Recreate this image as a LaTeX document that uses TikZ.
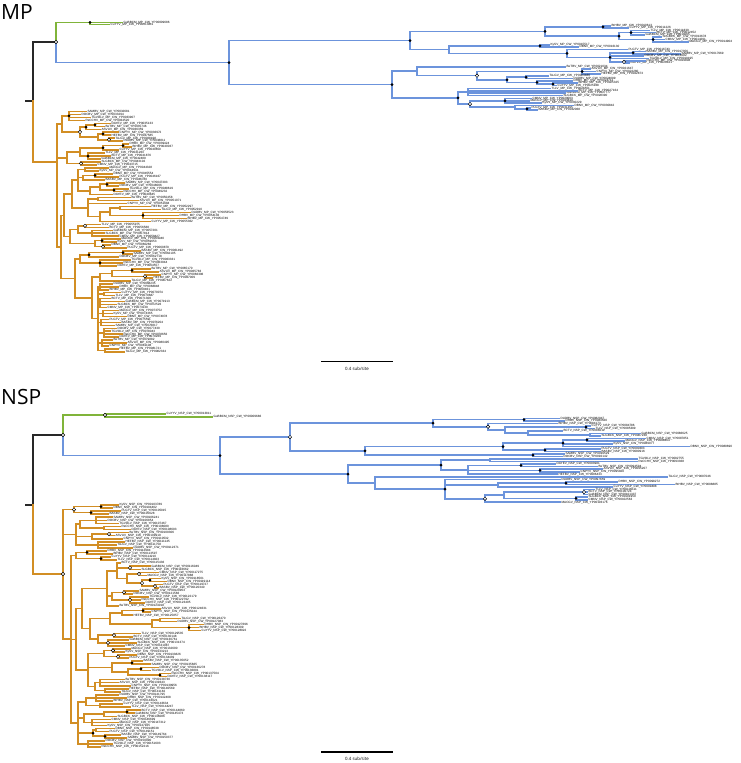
\documentclass[tikz,border=0pt]{standalone}
\usepackage{fontspec}
\setmainfont{Liberation Sans}
\newfontfamily\headfont{Open Sans}
\usetikzlibrary{calc}
\pgfdeclarelayer{fg}
\pgfsetlayers{main,fg}
\definecolor{cladeblue}{RGB}{108,148,220}
\definecolor{cladegreen}{RGB}{128,180,58}
\definecolor{cladeorange}{RGB}{210,142,36}
\definecolor{rootgray}{RGB}{40,40,40}

\tikzset{
  brbase/.style={line width=1.6pt, line cap=rect},
  blk/.style={brbase, draw=rootgray},
  grn/.style={brbase, draw=cladegreen},
  blu/.style={brbase, draw=cladeblue},
  org/.style={brbase, draw=cladeorange},
  br/.style={blu},
  leaf/.style={anchor=west, inner xsep=1.4pt, inner ysep=0pt, font=\fontsize{3.1}{3.3}\selectfont},
  fdot/.style={circle, fill=black, inner sep=0pt, minimum size=3pt},
  odot/.style={circle, draw=black, fill=white, line width=0.45pt, inner sep=0pt, minimum size=3.4pt},
  nodot/.style={inner sep=0pt, minimum size=0pt},
  titre/.style={anchor=base west, inner sep=0pt, font=\headfont\fontsize{21}{21}\selectfont},
  echelle/.style={line width=1.3pt, draw=black},
  echtxt/.style={inner sep=0pt, font=\headfont\fontsize{4.4}{5}\selectfont},
}

% etiquettes des feuilles
\newcount\nleaf
\def\seg{MP}
\def\dy{2.5}
\def\ycur{0}
\newcommand\tagof[1]{\pgfmathparse{{"DHBV","BtHBV","CuYYV","TLLV","BCTV","GuBBCM","SLGBCK","CMNV","MACGV","KySV","DBNV","PLGTV","BASBV","SAMBV","DOCBV","TGVOLV","RsCCHV","DAYEV","BeTBV","ASVUV","CNPYV","HEFBV","TsLGV","DUDBV"}[mod(#1,24)]}\pgfmathresult}
\newcommand\idof[1]{\number\numexpr 10000+#1*613\relax}
\newcommand\lbl{\tagof{\the\nleaf}\_\seg\_CW\_YP00\idof{\the\nleaf}}

% feuilles, groupes et noeuds internes
\newcommand\skipy[1]{\pgfmathsetmacro\ytmp{\ycur+#1}\xdef\ycur{\ytmp}}
\newcommand\lf[2]{%
  \global\advance\nleaf by 1
  \pgfmathsetmacro\ytmp{\ycur+\dy}\xdef\ycur{\ytmp}%
  \coordinate (#1) at (#2,\ycur);
  \node[leaf] (#1-t) at (#1) {\lbl};
}
\newcommand\grp[4]{%
  \foreach \xe [count=\kk] in {#4} {\lf{#1-\kk}{\xe}\xdef\nlast{\kk}}
  \path let \p1=(#1-1), \p2=(#1-\nlast) in coordinate (#1) at (#2pt,{0.5*(\y1+\y2)});
  \foreach \kk in {1,...,\nlast} {\draw[br] (#1) |- (#1-\kk);}
  \begin{pgfonlayer}{fg}\node[#3] (#1-m) at (#1) {};\end{pgfonlayer}
}
\newcommand\nd[4]{%
  \foreach \ch [count=\kk] in {#4} {\ifnum\kk=1 \xdef\cfirst{\ch}\fi\xdef\clast{\ch}}
  \path let \p1=(\cfirst), \p2=(\clast) in coordinate (#1) at (#2pt,{0.5*(\y1+\y2)});
  \foreach \ch in {#4} {\draw[br] (#1) |- (\ch);}
  \begin{pgfonlayer}{fg}\node[#3] (#1-m) at (#1) {};\end{pgfonlayer}
}

\begin{document}
\begin{tikzpicture}[x=1pt, y=-1pt]
    \useasboundingbox (0,0) rectangle (740,763);

    % Titres
    \node[titre] (tMP) at (1,19) {MP};
    \node[titre] (tNSP) at (1,404) {NSP};

    % ===== Arbre MP =====
    \def\seg{MP}
    \coordinate (mR0) at (26,101);
    \coordinate (mR) at (33,101);
    \coordinate (mA) at (56,42);
    \coordinate (mG) at (90,22.3);
    \coordinate (mO) at (57,161.7);
    \draw[blk] (mR0) -- (mR);
    \draw[blk] (mR) |- (mA);

    % Clade vert
    \draw[grn] (mA) |- (mG);
    \node[leaf] (mg1) at (122,22.3) {GuBBCM\_MP\_CW\_YP00009686};
    \node[leaf] (mg2) at (109,24.3) {CuYYV\_MP\_CW\_YP00013811};
    \draw[grn] (mG) |- (mg1.west);
    \draw[grn] (mG) |- (mg2.west);

    % Clade bleu
    \tikzset{br/.style={blu}}
    \def\dy{2.3}\xdef\ycur{23.4}
    \grp{mbA}{603}{fdot}{610,628}
    \grp{mbB}{631}{fdot}{649,655,644}
    \grp{mbC}{653}{fdot}{661,664,688}
    \nd{mbBC}{619}{fdot}{mbB,mbC}
    \nd{mbABC}{545}{fdot}{mbA,mbBC}
    \skipy{0.6}
    \grp{mbD}{540}{fdot}{549,578}
    \lf{mbE}{627}
    \grp{mbF}{633}{fdot}{645,680}
    \lf{mbG}{643}
    \lf{mbH}{648}
    \grp{mbI}{624}{odot}{645,629}
    \nd{mbFI}{610}{fdot}{mbF,mbG,mbH,mbI}
    \nd{mbEI}{567}{fdot}{mbE,mbFI}
    \nd{mbDI}{449}{nodot}{mbD,mbEI}
    \nd{mbU}{410}{fdot}{mbABC,mbDI}
    \skipy{1.5}
    \lf{mbJ}{565}
    \grp{mbK}{582}{fdot}{590,595,600}
    \grp{mbL}{526}{fdot}{548,572}
    \lf{mbM}{572}
    \grp{mbN}{553}{fdot}{577,556}
    \nd{mbMN}{537}{fdot}{mbM,mbN}
    \nd{mbLN}{507}{fdot}{mbL,mbMN}
    \nd{mbKN}{477}{odot}{mbK,mbLN}
    \nd{mbJN}{417}{nodot}{mbJ,mbKN}
    \skipy{0.8}
    \grp{mbO}{468}{nodot}{550,577,565,562}
    \skipy{1}
    \grp{mbP}{505}{fdot}{531,529,541}
    \lf{mbQ}{573}
    \grp{mbR}{527}{fdot}{530,537}
    \nd{mbQR}{515}{nodot}{mbQ,mbR}
    \nd{mbPR}{470}{odot}{mbP,mbQR}
    \nd{mbOR}{458}{fdot}{mbO,mbPR}
    \nd{mbL2}{392}{fdot}{mbJN,mbOR}
    \nd{mbRoot}{229}{fdot}{mbU,mbL2}
    \draw[blu] (mA) |- (mbRoot);

    % Clade orange
    \tikzset{br/.style={org}}
    \def\dy{2.97}\xdef\ycur{108.53}
    \grp{oa}{69}{fdot}{86,80,90,84}
    \grp{ob}{95}{fdot}{110,104}
    \lf{oc}{100}
    \nd{obc}{86}{fdot}{ob,oc}
    \grp{od}{103}{fdot}{118,110}
    \grp{oe}{109}{odot}{114,122}
    \nd{ode}{98}{nodot}{od,oe}
    \nd{obe}{80}{odot}{obc,ode}
    \nd{oA}{62}{nodot}{oa,obe}
    \grp{of}{123}{fdot}{128,131}
    \lf{og}{118}
    \nd{ofg}{103}{fdot}{of,og}
    \grp{oh}{88}{fdot}{104,110,100}
    \nd{ofh}{80}{nodot}{ofg,oh}
    \grp{oi}{81}{odot}{100,96}
    \nd{oB}{67}{nodot}{ofh,oi}
    \grp{oj}{85}{nodot}{108,98}
    \grp{ok}{95}{fdot}{112,118}
    \lf{ol}{104}
    \nd{okl}{83}{nodot}{ok,ol}
    \grp{om}{107}{fdot}{124,118}
    \grp{on}{114}{fdot}{128,122}
    \nd{omn}{100}{nodot}{om,on}
    \lf{oo}{112}
    \nd{omo}{90}{nodot}{omn,oo}
    \nd{ojo}{78}{nodot}{oj,okl,omo}
    \grp{op}{98}{nodot}{130,138}
    \lf{oq}{126}
    \grp{or}{120}{nodot}{150,160}
    \grp{os}{143}{fdot}{190,178,186}
    \nd{ors}{110}{nodot}{or,os}
    \lf{ot}{150}
    \nd{ort}{100}{nodot}{ors,ot}
    \nd{opt}{88}{nodot}{op,oq,ort}
    \nd{oC1}{72}{nodot}{ojo,opt}
    \grp{ou}{85}{odot}{100,108}
    \grp{ov}{92}{nodot}{112,104,118}
    \nd{ouv}{78}{nodot}{ou,ov}
    \grp{ow}{102}{fdot}{120,116}
    \grp{ox}{103}{odot}{110,126}
    \nd{owx}{95}{nodot}{ow,ox}
    \nd{ouw}{70}{nodot}{ouv,owx}
    \nd{oC}{64}{nodot}{oC1,ouw}
    \grp{oy}{123}{fdot}{140,132}
    \lf{oz}{118}
    \nd{oyz}{89}{fdot}{oy,oz}
    \grp{pa}{100}{fdot}{130,122,116}
    \nd{oyp}{80}{nodot}{oyz,pa}
    \grp{pb}{132}{fdot}{150,158}
    \grp{pc}{145}{odot}{160,152}
    \nd{pbc}{112}{nodot}{pb,pc}
    \lf{pd}{130}
    \nd{pbd}{100}{nodot}{pbc,pd}
    \grp{pe}{100}{nodot}{112,118,108}
    \grp{pf}{104}{nodot}{120,114}
    \grp{pg}{100}{nodot}{110,124,116,106}
    \grp{ph}{103}{nodot}{118,112,126}
    \grp{pi}{101}{nodot}{108,120,114}
    \grp{pj}{104}{nodot}{116,110,122,118}
    \grp{pk}{102}{nodot}{112,126,108}
    \grp{pl}{105}{nodot}{118,124}
    \nd{pcomb}{98}{nodot}{pe,pf,pg,ph,pi,pj,pk,pl}
    \nd{oD1}{92}{nodot}{pbd,pcomb}
    \nd{oD}{75}{nodot}{oyp,oD1}
    \nd{oCD}{61}{nodot}{oC,oD}
    \foreach \ch in {oA,oB,oCD} {\draw[org] (mO) |- (\ch);}
    \draw[org] (mR) |- (mO);

    \begin{pgfonlayer}{fg}
        \node[odot] (mA-m) at (mA) {};
        \node[fdot] (mG-m) at (mG) {};
    \end{pgfonlayer}

    % Echelle MP
    \coordinate (mS1) at (321,361.7);
    \coordinate (mS2) at (392.5,361.7);
    \draw[echelle] (mS1) -- (mS2);
    \node[echtxt] (mSt) at (357,369) {0.4 sub/site};

    % ===== Arbre NSP =====
    \def\seg{NSP}
    \coordinate (nR0) at (26,505);
    \coordinate (nR) at (33,505);
    \coordinate (nA) at (63,435);
    \coordinate (nG) at (105,415);
    \coordinate (nO) at (63,574);
    \draw[blk] (nR0) -- (nR);
    \draw[blk] (nR) |- (nA);

    % Clade vert
    \draw[grn] (nA) |- (nG);
    \node[leaf] (ng1) at (165,414.2) {CuYYV\_NSP\_CW\_YP00013811};
    \node[leaf] (ng2) at (212,416.8) {GuBBCM\_NSP\_CW\_YP00009686};
    \draw[grn] (nG) |- (ng1.west);
    \draw[grn] (nG) |- (ng2.west);

    % Clade bleu
    \tikzset{br/.style={blu}}
    \def\dy{2.545}\xdef\ycur{415.755}
    \grp{nbA}{524}{fdot}{559,564}
    \lf{nbB}{557}
    \grp{nbC}{586}{fdot}{590,594}
    \lf{nbD}{562}
    \grp{nbE}{590}{nodot}{640,600}
    \nd{nbDE}{528}{nodot}{nbD,nbE}
    \nd{nbCE}{505}{nodot}{nbC,nbDE}
    \nd{nbBE}{488}{odot}{nbB,nbCE}
    \nd{nbAE}{433}{fdot}{nbA,nbBE}
    \grp{nbF}{587}{fdot}{645,624}
    \lf{nbG}{612}
    \lf{nbH}{689}
    \nd{nbFH}{563}{fdot}{nbF,nbG,nbH}
    \grp{nbI}{545}{fdot}{600,600}
    \nd{nbFI}{503}{fdot}{nbFH,nbI}
    \grp{nbJ}{533}{fdot}{564,562}
    \nd{nbFJ}{365}{fdot}{nbFI,nbJ}
    \nd{nbUp}{290}{odot}{nbAE,nbFJ}
    \grp{nbK}{490}{nodot}{637,637}
    \grp{nbL}{521}{fdot}{555,597}
    \grp{nbM}{540}{fdot}{602,579}
    \lf{nbN}{557}
    \nd{nbLN}{468}{nodot}{nbL,nbM,nbN}
    \nd{nbKN}{441}{fdot}{nbK,nbLN}
    \lf{nbO}{667}
    \lf{nbP}{560}
    \grp{nbQ}{566}{fdot}{617,674}
    \lf{nbR}{612}
    \nd{nbQR}{498}{nodot}{nbQ,nbR}
    \grp{nbS}{584}{odot}{594,587,587}
    \grp{nbT}{576}{fdot}{587,587}
    \nd{nbST}{504}{nodot}{nbS,nbT}
    \lf{nbU}{560}
    \nd{nbSU}{485}{odot}{nbST,nbU}
    \nd{nbPU}{445}{fdot}{nbP,nbQR,nbSU}
    \nd{nbOU}{375}{nodot}{nbO,nbPU}
    \nd{nbLow}{348}{fdot}{nbKN,nbOU}
    \nd{nbRoot}{220}{fdot}{nbUp,nbLow}
    \draw[blu] (nA) |- (nbRoot);

    % Clade orange
    \tikzset{br/.style={org}}
    \def\dy{3.063}\xdef\ycur{501.94}
    \grp{qa}{101}{fdot}{118,112}
    \grp{qb}{91}{fdot}{120,108}
    \nd{qab}{74}{odot}{qa,qb}
    \grp{qc}{96}{nodot}{112,106,118}
    \grp{qd}{104}{nodot}{120,130}
    \nd{qcd}{80}{nodot}{qc,qd}
    \grp{qe}{109}{odot}{128,114}
    \lf{qf}{122}
    \nd{qef}{92}{nodot}{qe,qf}
    \grp{qg}{98}{nodot}{124,116,132}
    \nd{qcg}{76}{nodot}{qcd,qef,qg}
    \grp{qh}{87}{fdot}{106,112}
    \grp{qi}{101}{fdot}{110,116}
    \nd{qB}{76}{nodot}{qh,qi}
    \lf{qj}{120}
    \grp{qk}{130}{odot}{150,140}
    \grp{ql}{139}{odot}{158,146}
    \grp{qm}{150}{fdot}{160,166}
    \grp{qn}{155}{odot}{162,158}
    \nd{qmn}{142}{odot}{qm,qn}
    \nd{qlm}{127}{nodot}{ql,qmn}
    \nd{qjl}{117}{nodot}{qj,qk,qlm}
    \grp{qo}{124}{odot}{138,132}
    \grp{qp}{130}{odot}{148,140,144}
    \nd{qop}{112}{nodot}{qo,qp}
    \lf{qq}{118}
    \nd{qC1}{107}{nodot}{qjl,qop,qq}
    \grp{qr}{143}{fdot}{160,150}
    \lf{qs}{132}
    \nd{qrs}{122}{nodot}{qr,qs}
    \grp{qt}{160}{nodot}{180,176}
    \grp{qu}{189}{fdot}{203,198,200}
    \nd{qtu}{152}{nodot}{qt,qu}
    \nd{qru}{110}{nodot}{qrs,qtu}
    \grp{qw}{114}{odot}{140,132}
    \grp{qx}{108}{odot}{128,136,124}
    \nd{qwx}{98}{nodot}{qw,qx}
    \nd{qC2}{90}{nodot}{qru,qwx}
    \nd{qC12}{82}{nodot}{qC1,qC2}
    \grp{qy}{113}{odot}{130,124}
    \grp{qz}{118}{odot}{136,128}
    \nd{qyz}{104}{nodot}{qy,qz}
    \grp{ra}{132}{fdot}{142,150}
    \grp{rb}{141}{fdot}{158,150}
    \grp{rc}{160}{fdot}{170,166}
    \nd{rbc}{128}{nodot}{rb,rc}
    \nd{rac}{112}{nodot}{ra,rbc}
    \grp{rd}{100}{nodot}{124,118,130}
    \grp{re}{105}{nodot}{128,120}
    \nd{rde}{95}{nodot}{rd,re}
    \nd{qC3}{88}{nodot}{qyz,rac,rde}
    \nd{qC}{76}{nodot}{qC12,qC3}
    \grp{rf}{96}{nodot}{118,126,112}
    \grp{rg}{100}{nodot}{122,130}
    \nd{rfg}{86}{nodot}{rf,rg}
    \grp{rh}{127}{fdot}{140,134}
    \lf{ri}{116}
    \nd{rhi}{104}{nodot}{rh,ri}
    \grp{rj}{92}{nodot}{110,118,106}
    \nd{rhj}{84}{nodot}{rhi,rj}
    \grp{rk}{96}{nodot}{114,108}
    \grp{rl}{105}{fdot}{120,126}
    \nd{rkl}{93}{fdot}{rk,rl}
    \grp{rm}{88}{nodot}{104,112,100}
    \nd{qD}{78}{nodot}{rfg,rhj,rkl,rm}
    \nd{qBCD}{71}{nodot}{qB,qC,qD}
    \foreach \ch in {qab,qcg,qBCD} {\draw[org] (nO) |- (\ch);}
    \draw[org] (nR) |- (nO);

    \begin{pgfonlayer}{fg}
        \node[odot] (nA-m) at (nA) {};
        \node[odot] (nG-m) at (nG) {};
        \node[odot] (nO-m) at (nO) {};
    \end{pgfonlayer}

    % Echelle NSP
    \coordinate (nS1) at (321,752);
    \coordinate (nS2) at (392.5,752);
    \draw[echelle] (nS1) -- (nS2);
    \node[echtxt] (nSt) at (357,759) {0.4 sub/site};
\end{tikzpicture}
\end{document}
